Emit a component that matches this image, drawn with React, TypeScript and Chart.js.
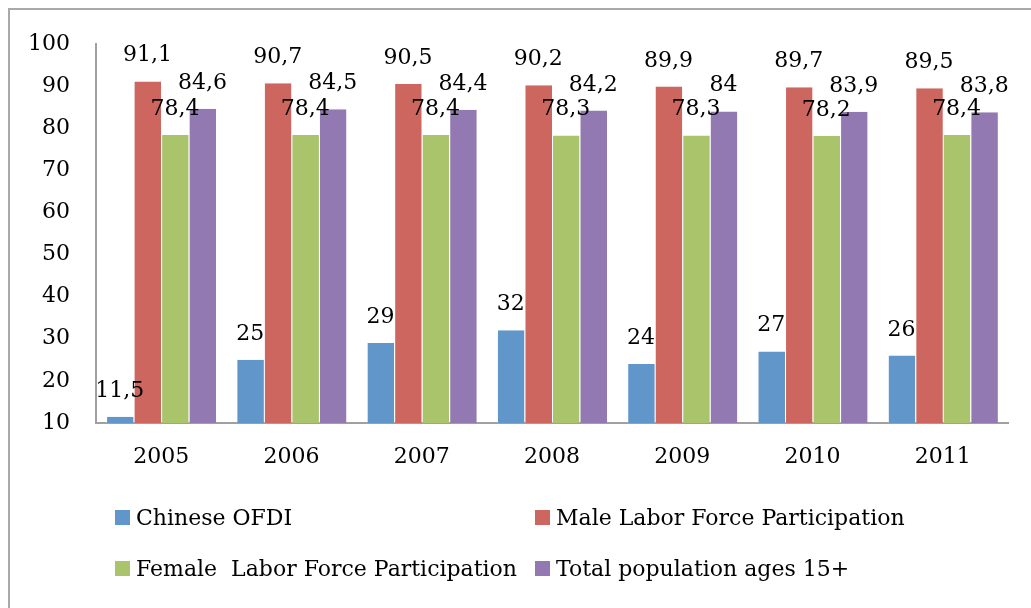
import React, { useEffect, useRef } from "react";
import { Chart, registerables } from "chart.js";

Chart.register(...registerables);

const years = ["2005", "2006", "2007", "2008", "2009", "2010", "2011"];
const ofdi = [11.5, 25, 29, 32, 24, 27, 26];
const male = [91.1, 90.7, 90.5, 90.2, 89.9, 89.7, 89.5];
const female = [78.4, 78.4, 78.4, 78.3, 78.3, 78.2, 78.4];
const total = [84.6, 84.5, 84.4, 84.2, 84, 83.9, 83.8];
const seriesNames = [
  "Chinese OFDI",
  "Male Labor Force Participation",
  "Female  Labor Force Participation",
  "Total population ages 15+",
];
const seriesColors = ["#6096CA", "#CD665F", "#AAC46C", "#9379B2"];

const FONT = "'DejaVu Serif', serif";

const labelPlugin = {
  id: "barLabels",
  afterDatasetsDraw(chart: any) {
    const ctx = chart.ctx;
    ctx.save();
    ctx.font = `22px ${FONT}`;
    ctx.fillStyle = "#000";
    ctx.textAlign = "center";
    ctx.textBaseline = "alphabetic";
    chart.data.datasets.forEach((ds: any, i: number) => {
      const meta = chart.getDatasetMeta(i);
      meta.data.forEach((bar: any, j: number) => {
        const txt = String(ds.data[j]).replace(".", ",");
        ctx.fillText(txt, bar.x, bar.y - 20);
      });
    });
    ctx.restore();
  },
};

const legendPlugin = {
  id: "gridLegend",
  afterDraw(chart: any) {
    const ctx = chart.ctx;
    ctx.save();
    ctx.font = `22px ${FONT}`;
    ctx.textBaseline = "middle";
    ctx.textAlign = "left";
    const cols = [105, 525];
    const rows = [507, 558];
    chart.data.datasets.forEach((ds: any, i: number) => {
      const x = cols[i % 2];
      const y = rows[Math.floor(i / 2)];
      ctx.fillStyle = ds.backgroundColor;
      ctx.fillRect(x, y - 7, 15, 15);
      ctx.fillStyle = "#000";
      ctx.fillText(ds.label, x + 21, y + 2);
    });
    ctx.restore();
  },
};

export default function App() {
  const ref = useRef<HTMLCanvasElement>(null);
  useEffect(() => {
    if (!ref.current) return;
    const seriesData = [ofdi, male, female, total];
    const chart = new Chart(ref.current, {
      type: "bar",
      data: {
        labels: years,
        datasets: seriesData.map((d, i) => ({
          label: seriesNames[i],
          data: d,
          backgroundColor: seriesColors[i],
          borderColor: "rgba(255,255,255,0.3)",
          borderWidth: { left: 1, right: 0, top: 0, bottom: 0 },
          borderSkipped: false,
          base: 10,
          barPercentage: 1,
          categoryPercentage: 0.845,
        })),
      },
      options: {
        responsive: false,
        animation: false,
        layout: { padding: { left: 10, right: 23, top: 34, bottom: 0 } },
        plugins: {
          legend: { display: false },
          tooltip: { enabled: false },
        },
        scales: {
          x: {
            grid: { display: false, drawTicks: false },
            border: { display: true, color: "#A0A0A0", width: 2 },
            ticks: { color: "#000", font: { family: FONT, size: 22 }, padding: 21 },
            afterFit: (s: any) => {
              s.height = 185;
              s.paddingLeft = 0;
              s.paddingRight = 0;
            },
          },
          y: {
            min: 10,
            max: 100,
            grid: { display: false, drawTicks: false },
            border: { display: true, color: "#A0A0A0", width: 2 },
            ticks: {
              stepSize: 10,
              color: "#000",
              font: { family: FONT, size: 22 },
              padding: 26,
            },
            afterFit: (s: any) => {
              s.width = 76;
              s.paddingTop = 0;
              s.paddingBottom = 0;
            },
          },
        },
      },
      plugins: [labelPlugin, legendPlugin],
    });
    return () => chart.destroy();
  }, []);
  return (
    <div
      style={{
        position: "fixed",
        left: 8,
        top: 8,
        width: 1023,
        height: 600,
        boxSizing: "border-box",
        borderTop: "2px solid #A9A9A9",
        borderLeft: "2px solid #A9A9A9",
        background: "#fff",
      }}
    >
      <canvas ref={ref} width={1021} height={598} style={{ display: "block" }} />
    </div>
  );
}
